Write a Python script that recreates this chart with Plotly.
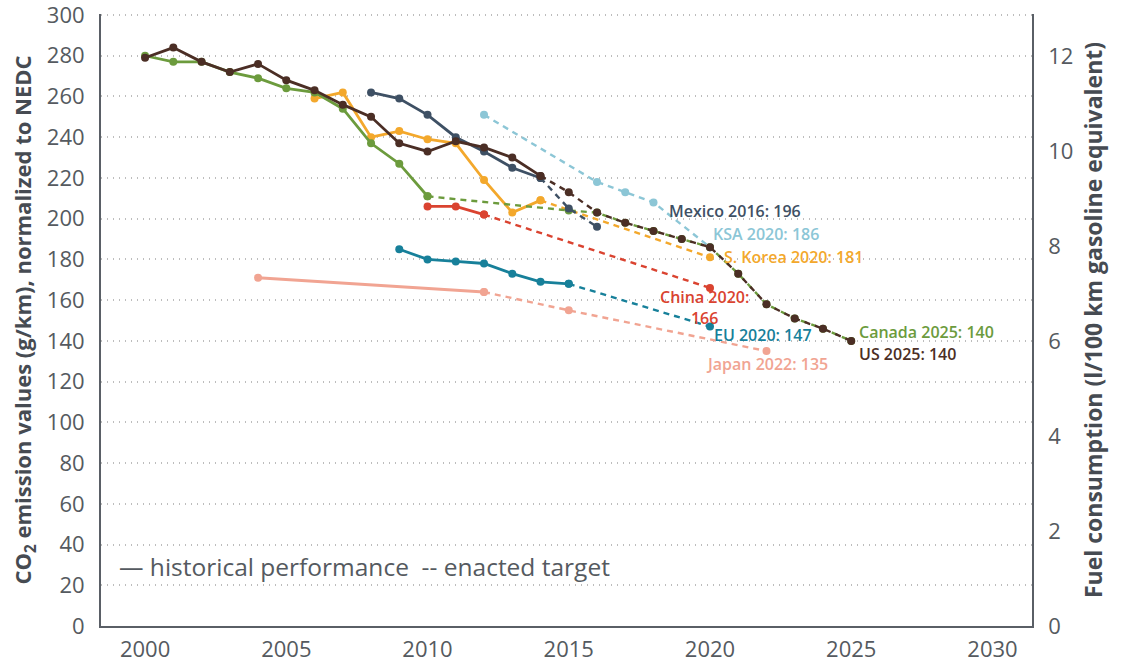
import plotly.graph_objects as go

# ---- data (g/km CO2, normalized to NEDC) ----
us_hist_years = [2000, 2001, 2002, 2003, 2004, 2005, 2006, 2007, 2008, 2009, 2010, 2011, 2012, 2013, 2014]
us_hist_vals = [279, 284, 277, 272, 276, 268, 263, 256, 250, 237, 233, 238, 235, 230, 221]
us_tgt_years = [2015, 2016, 2017, 2018, 2019, 2020, 2021, 2022, 2023, 2024, 2025]
us_tgt_vals = [213, 203, 198, 194, 190, 186, 173, 158, 151, 146, 140]

ca_hist_years = [2000, 2001, 2002, 2003, 2004, 2005, 2006, 2007, 2008, 2009, 2010]
ca_hist_vals = [280, 277, 277, 272, 269, 264, 262, 254, 237, 227, 211]
ca_tgt_years = [2015, 2016, 2017, 2018, 2019, 2020, 2021, 2022, 2023, 2024, 2025]
ca_tgt_vals = [204, 203, 198, 194, 190, 186, 173, 158, 151, 146, 140]

kr_hist_years = [2006, 2007, 2008, 2009, 2010, 2011, 2012, 2013, 2014]
kr_hist_vals = [259, 262, 240, 243, 239, 237, 219, 203, 209]
kr_tgt_years = [2020]
kr_tgt_vals = [181]

mx_hist_years = [2008, 2009, 2010, 2011, 2012, 2013, 2014]
mx_hist_vals = [262, 259, 251, 240, 233, 225, 220]
mx_tgt_years = [2015, 2016]
mx_tgt_vals = [205, 196]

ksa_tgt_years = [2012, 2016, 2017, 2018, 2020]
ksa_tgt_vals = [251, 218, 213, 208, 186]

cn_hist_years = [2010, 2011, 2012]
cn_hist_vals = [206, 206, 202]
cn_tgt_years = [2020]
cn_tgt_vals = [166]

eu_hist_years = [2009, 2010, 2011, 2012, 2013, 2014, 2015]
eu_hist_vals = [185, 180, 179, 178, 173, 169, 168]
eu_tgt_years = [2020]
eu_tgt_vals = [147]

jp_hist_years = [2004, 2012]
jp_hist_vals = [171, 164]
jp_tgt_years = [2015, 2022]
jp_tgt_vals = [155, 135]

x_ticks = [2000, 2005, 2010, 2015, 2020, 2025, 2030]
y_ticks = list(range(0, 301, 20))
y2_ticks = [0, 2, 4, 6, 8, 10, 12]
G_PER_L = 23.33  # g/km per l/100km
Y_MAX = 300.5

C_US = "#4b2e25"
C_CA = "#6c9b3d"
C_KR = "#f3a82c"
C_MX = "#3e5064"
C_KSA = "#8cc6d6"
C_CN = "#da4330"
C_EU = "#17809a"
C_JP = "#f1a492"

FONT = "Open Sans"
TXT = "#555a60"

fig = go.Figure()


def add_series(color, hy, hv, ty, tv):
    if hy:
        fig.add_trace(go.Scatter(
            x=hy, y=hv, mode="lines+markers",
            line=dict(color=color, width=2.8),
            marker=dict(color=color, size=8),
            showlegend=False, hoverinfo="x+y"))
    if ty:
        tx = ([hy[-1]] if hy else []) + ty
        tvals = ([hv[-1]] if hv else []) + tv
        fig.add_trace(go.Scatter(
            x=tx, y=tvals, mode="lines+markers",
            line=dict(color=color, width=2.4, dash="6px,5px"),
            marker=dict(color=color, size=8),
            showlegend=False, hoverinfo="x+y"))


add_series(C_JP, jp_hist_years, jp_hist_vals, jp_tgt_years, jp_tgt_vals)
add_series(C_EU, eu_hist_years, eu_hist_vals, eu_tgt_years, eu_tgt_vals)
add_series(C_CN, cn_hist_years, cn_hist_vals, cn_tgt_years, cn_tgt_vals)
add_series(C_KSA, [], [], ksa_tgt_years, ksa_tgt_vals)
add_series(C_KR, kr_hist_years, kr_hist_vals, kr_tgt_years, kr_tgt_vals)
add_series(C_CA, ca_hist_years, ca_hist_vals, ca_tgt_years, ca_tgt_vals)
add_series(C_MX, mx_hist_years, mx_hist_vals, mx_tgt_years, mx_tgt_vals)
add_series(C_US, us_hist_years, us_hist_vals, us_tgt_years, us_tgt_vals)

# invisible trace to activate the secondary axis
fig.add_trace(go.Scatter(x=[2000], y=[0], yaxis="y2", mode="markers",
                         marker=dict(opacity=0), showlegend=False, hoverinfo="skip"))

labels = [
    ("Mexico 2016: 196", 2018.5, 203.7, C_MX, "left"),
    ("KSA 2020: 186", 2020.07, 192.3, C_KSA, "left"),
    ("S. Korea 2020: 181", 2020.46, 181.4, C_KR, "left"),
    ("China 2020:<br>166", 2019.82, 156.4, C_CN, "center"),
    ("EU 2020: 147", 2020.1, 142.9, C_EU, "left"),
    ("Japan 2022: 135", 2019.82, 128.6, C_JP, "left"),
    ("Canada 2025: 140", 2025.24, 144.3, C_CA, "left"),
    ("US 2025: 140", 2025.24, 133.5, C_US, "left"),
]
for text, x, y, col, al in labels:
    fig.add_annotation(x=x, y=y, text=text, showarrow=False,
                       xanchor="left" if al == "left" else "center",
                       yanchor="middle", align=al, borderpad=0,
                       font=dict(family=FONT, size=16, color=col, weight=600),
                       xref="x", yref="y")

fig.add_annotation(x=1999.0, y=29, xref="x", yref="y",
                   text="— historical performance  -- enacted target",
                   showarrow=False, xanchor="left", yanchor="middle",
                   font=dict(family=FONT, size=24.5, color=TXT))

fig.update_layout(
    width=1125, height=667,
    margin=dict(l=101, r=93, t=14, b=41),
    plot_bgcolor="white", paper_bgcolor="white",
    font=dict(family=FONT, color=TXT),
    xaxis=dict(range=[1998.44, 2031.4], tickvals=x_ticks,
               ticktext=[str(v) for v in x_ticks], automargin=False,
               ticklabeloverflow="allow",
               showgrid=False, zeroline=False, showline=True,
               linecolor="#5a5f66", linewidth=2, ticks="",
               tickfont=dict(size=22, color=TXT), ticklabelstandoff=3),
    yaxis=dict(range=[0, Y_MAX], tickvals=y_ticks, automargin=False,
               ticklabeloverflow="allow",
               showgrid=True, gridcolor="#bdbdbd", griddash="1px,5px", gridwidth=1.5,
               zeroline=False, showline=True, linecolor="#5a5f66", linewidth=2,
               ticks="", tickfont=dict(size=22, color=TXT),
               ticklabelstandoff=10,
               title=dict(text="<b>CO<sub>2</sub> emission values (g/km), normalized to NEDC</b>",
                          font=dict(size=22, color="#464b52"), standoff=9)),
    yaxis2=dict(range=[0, Y_MAX / G_PER_L], tickvals=y2_ticks, automargin=False,
                ticklabeloverflow="allow",
                overlaying="y", side="right", showgrid=False, zeroline=False,
                showline=True, linecolor="#5a5f66", linewidth=1.5, ticks="",
                tickfont=dict(size=22, color=TXT), ticklabelstandoff=10,
                title=dict(text="<b>Fuel consumption (l/100 km gasoline equivalent)</b>",
                           font=dict(size=23, color="#464b52"), standoff=14)),
)

fig.write_html("out.html", post_script="document.body.style.margin='0px';",
               config={"displayModeBar": False})
